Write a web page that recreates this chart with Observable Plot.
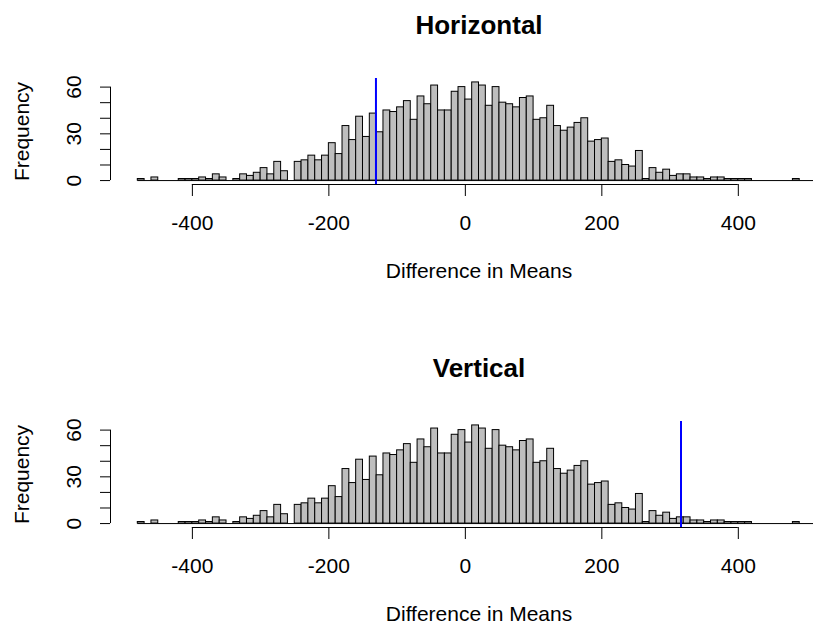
<!DOCTYPE html>
<html><head><meta charset="utf-8">
<script src="https://cdn.jsdelivr.net/npm/d3@7"></script>
<script src="https://cdn.jsdelivr.net/npm/@observablehq/plot@0.6"></script>
<style>
body{margin:0;background:#fff;overflow:hidden;width:813px;height:628px}
#c svg{display:block}
</style>
</head><body><div id="c"></div>
<script>
// Histogram of permutation differences: bins of width 10 starting at -480
const binStart = -480;
const binWidth = 10;
const counts = [
  1, 0, 2, 0, 0, 0, 1, 1, 1, 2,      // -480 .. -390
  1, 4, 2, 0, 1, 4, 3, 5, 8, 4,      // -380 .. -290
  12, 6, 0, 12, 13, 16, 13, 16, 24, 17, // -280 .. -190
  35, 26, 41, 28, 43, 31, 45, 44, 47, 51, // -180 .. -90
  39, 54, 49, 61, 45, 45, 57, 60, 52, 63, // -80 .. 10
  61, 48, 60, 50, 49, 47, 53, 54, 39, 40, // 20 .. 110
  48, 35, 32, 34, 37, 40, 25, 26, 27, 12, // 120 .. 210
  13, 10, 9, 19, 1, 8, 5, 7, 3, 4,     // 220 .. 310
  4, 2, 2, 1, 2, 2, 1, 1, 1, 1,        // 320 .. 410
  0, 0, 0, 0, 0, 0, 1, 0, 0, 0         // 420 .. 510
];
const panelTitles = ["Horizontal", "Vertical"];
const observed = [-131, 316];
const xTicks = [-400, -200, 0, 200, 400];
const yTicks = [0, 10, 20, 30, 40, 50, 60];
const yLabels = [0, 30, 60];
const xLabel = "Difference in Means";
const yLabel = "Frequency";

const bins = counts.map((c, i) => ({x1: binStart + i * binWidth, x2: binStart + (i + 1) * binWidth, count: c}));
const lo = bins[0].x1, hi = bins[bins.length - 1].x2;
const xpad = 0.04 * (hi - lo);
const xDomain = [lo - xpad, hi + xpad];
const maxC = d3.max(counts);
const ypad = 0.04 * maxC;
const yDomain = [-ypad, maxC + ypad];
const xMid = (xDomain[0] + xDomain[1]) / 2;
const font = "'Liberation Sans', Arial, Helvetica, sans-serif";

function panel(title, obs, H) {
  const top = 78, bottom = 184;
  return Plot.plot({
    width: 813, height: H,
    marginLeft: 110, marginRight: 0, marginTop: top, marginBottom: H - bottom,
    x: {domain: xDomain, range: [110, 847]},
    y: {domain: yDomain, range: [bottom, top]},
    style: {fontFamily: font, background: "white", color: "black", overflow: "hidden"},
    marks: [
      Plot.ruleY([0], {x1: lo, x2: hi, stroke: "#000", strokeWidth: 1}),
      Plot.rect(bins.filter(d => d.count > 0), {x1: "x1", x2: "x2", y1: 0, y2: "count", fill: "#bebebe", stroke: "#000", strokeWidth: 1}),
      Plot.ruleY([yDomain[0]], {x1: xTicks[0], x2: xTicks[xTicks.length - 1], stroke: "#000"}),
      Plot.ruleX([xDomain[0]], {y1: yTicks[0], y2: yTicks[yTicks.length - 1], stroke: "#000"}),
      Plot.axisX({ticks: xTicks, tickSize: 12, tickPadding: 19, fontSize: 21, label: null, tickFormat: d => String(d)}),
      Plot.axisY({ticks: yTicks, tickSize: 10, tickFormat: () => "", label: null}),
      Plot.text(yLabels, {x: xDomain[0], y: d => d, text: d => String(d), rotate: -90, dx: -36.5, fontSize: 21, textAnchor: "middle", lineAnchor: "middle"}),
      Plot.text([yLabel], {frameAnchor: "left", rotate: -90, dx: -88, fontSize: 21, textAnchor: "middle", lineAnchor: "middle"}),
      Plot.text([title], {x: xMid, frameAnchor: "top", dy: 24.7 - top, fontSize: 26, fontWeight: "bold", textAnchor: "middle", lineAnchor: "middle"}),
      Plot.text([xLabel], {x: xMid, frameAnchor: "bottom", dy: 87, fontSize: 21, textAnchor: "middle", lineAnchor: "middle"}),
      Plot.ruleX([obs], {stroke: "#0000ff", strokeWidth: 2})
    ]
  });
}

const c = document.getElementById("c");
c.appendChild(panel(panelTitles[0], observed[0], 343));
c.appendChild(panel(panelTitles[1], observed[1], 285));
</script>
</body></html>
